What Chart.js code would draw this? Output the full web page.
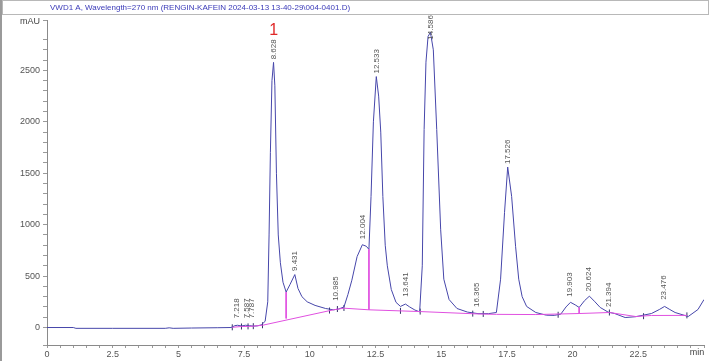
<!DOCTYPE html>
<html>
<head>
<meta charset="utf-8">
<title>VWD1 A chromatogram</title>
<script src="https://cdn.jsdelivr.net/npm/chart.js@4/dist/chart.umd.min.js"></script>
<style>
  html, body { margin: 0; padding: 0; background: #fff; }
  #wrap { width: 709px; height: 361px; position: relative; }
</style>
</head>
<body>
<div id="wrap"><canvas id="myChart" width="709" height="361"></canvas></div>
<script>
// signal trace (min, mAU)
var sigT = [0, 1.0, 1.1, 2.5, 4.5, 4.65, 4.8, 5.5, 6.5, 7.0, 7.15, 7.25, 7.4, 7.55, 7.7, 7.85, 8.0, 8.15,
  8.3, 8.4, 8.45, 8.5, 8.56, 8.62, 8.67, 8.73, 8.8, 8.88, 8.98, 9.1, 9.25, 9.43, 9.55, 9.7, 9.9, 10.2,
  10.6, 10.9, 11.1, 11.3, 11.45, 11.6, 11.8, 12.0, 12.15, 12.25, 12.33, 12.42, 12.53, 12.62, 12.7,
  12.78, 12.87, 12.95, 13.1, 13.28, 13.45, 13.64, 13.8, 14.0, 14.18, 14.28, 14.35, 14.42, 14.5, 14.59,
  14.7, 14.83, 14.98, 15.1, 15.3, 15.6, 16.0, 16.4, 16.8, 17.1, 17.26, 17.41, 17.53, 17.68, 17.83,
  17.95, 18.08, 18.25, 18.6, 19.0, 19.3, 19.55, 19.75, 19.92, 20.1, 20.25, 20.45, 20.64, 20.85,
  21.05, 21.35, 21.6, 22.0, 22.4, 23.0, 23.3, 23.5, 23.7, 23.9, 24.4, 24.77, 25.0];
var sigV = [0, 0, -8, -8, -8, -3, -8, -5, -2, 0, 18, 22, 15, 22, 18, 14, 16, 25,
  60, 250, 900, 1700, 2400, 2578, 2350, 1500, 900, 630, 440, 345, 420, 515, 380, 300, 250, 215,
  185, 172, 180, 200, 320, 460, 690, 805, 790, 760, 1275, 2000, 2440, 2250, 1900,
  1275, 800, 600, 370, 245, 205, 228, 200, 170, 152, 600, 1925, 2580, 2830, 2870,
  2700, 1925, 950, 470, 272, 185, 150, 135, 135, 146, 470, 1120, 1560, 1275, 790,
  470, 300, 205, 146, 120, 118, 130, 200, 245, 220, 195, 260, 305, 250,
  195, 150, 136, 97, 105, 136, 175, 205, 175, 146, 107, 175, 272];

// integration baseline
var baseT = [7.05, 7.4, 7.8, 8.2, 10.9, 11.3, 12.25, 14.2, 16.4, 17.1, 18.6, 20.25, 21.4, 22.4, 23.0, 24.35];
var baseV = [2, 10, 12, 22, 172, 188, 172, 155, 132, 128, 126, 136, 146, 107, 117, 118];

// drop lines: time, top, bottom
var dropT = [9.1, 12.25, 20.25];
var dropTop = [345, 760, 195];
var dropBot = [88, 172, 136];

// integration marks
var markT = [7.05, 7.4, 7.65, 7.85, 8.2, 10.75, 11.05, 11.3, 13.45, 14.2, 16.2, 16.6, 19.45, 21.4, 22.7, 24.35];
var markV = [2, 10, 11, 13, 22, 165, 180, 190, 162, 155, 135, 132, 124, 146, 110, 118];

// peak labels (retention time, label foot in mAU)
var peakT = [7.218, 7.587, 7.787, 8.628, 9.431, 10.985, 12.004, 12.533, 13.641, 14.586, 16.365, 17.526, 19.903, 20.624, 21.394, 23.476];
var peakV = [60, 60, 60, 2578, 520, 230, 830, 2440, 270, 2770, 170, 1560, 270, 320, 170, 240];

var titleText = 'VWD1 A, Wavelength=270 nm (RENGIN-KAFEIN 2024-03-13 13-40-29\\004-0401.D)';

function pts(xs, ys) {
  var out = [];
  for (var i = 0; i < xs.length; i++) out.push({x: xs[i], y: ys[i]});
  return out;
}

var dropData = [];
for (var i = 0; i < dropT.length; i++) {
  dropData.push({x: dropT[i], y: dropTop[i]});
  dropData.push({x: dropT[i], y: dropBot[i]});
  dropData.push({x: dropT[i], y: null});
}

var decor = {
  id: 'decor',
  afterDatasetsDraw: function(chart) {
    var ctx = chart.ctx, xs = chart.scales.x, ys = chart.scales.y;
    ctx.save();
    ctx.fillStyle = '#555';
    ctx.font = '8px "Liberation Sans", Arial, sans-serif';
    ctx.textBaseline = 'middle';
    ctx.textAlign = 'left';
    for (var i = 0; i < peakT.length; i++) {
      var px = xs.getPixelForValue(peakT[i]);
      var py = ys.getPixelForValue(peakV[i]) - 3;
      ctx.save();
      ctx.translate(px, py);
      ctx.rotate(-Math.PI / 2);
      ctx.fillText(peakT[i].toFixed(3), 0, 0);
      ctx.restore();
    }
    // red peak number
    ctx.fillStyle = '#e02828';
    ctx.font = '16px "Liberation Sans", Arial, sans-serif';
    ctx.textAlign = 'center';
    ctx.fillText('1', xs.getPixelForValue(8.628), 31);
    // axis unit labels
    ctx.fillStyle = '#444';
    ctx.font = '9px "Liberation Sans", Arial, sans-serif';
    ctx.textAlign = 'right';
    ctx.fillText('mAU', 40, 22);
    ctx.textAlign = 'center';
    ctx.fillText('min', 697, 353);
    // title box
    ctx.fillStyle = '#fff';
    ctx.fillRect(2, 0, 707, 15);
    ctx.strokeStyle = '#b8b8b8';
    ctx.lineWidth = 1;
    ctx.strokeRect(2.5, 0.5, 706, 14);
    ctx.fillStyle = '#3a3ab8';
    ctx.font = '8px "Liberation Sans", Arial, sans-serif';
    ctx.textAlign = 'left';
    ctx.fillText(titleText, 50, 8);
    // left edge
    ctx.fillStyle = '#9a9a9a';
    ctx.fillRect(0, 0, 2, 361);
    ctx.restore();
  }
};

var tickFont = { family: '"Liberation Sans", Arial, sans-serif', size: 9 };

var graficoContainer = document.getElementById('myChart');
var grafico = new Chart(graficoContainer, {
  type: 'scatter',
  data: {
    datasets: [{
      label: 'baseline',
      data: pts(baseT, baseV),
      showLine: true,
      borderColor: '#e050e0',
      borderWidth: 1,
      pointRadius: 0
    }, {
      label: 'drops',
      data: dropData,
      showLine: true,
      spanGaps: false,
      borderColor: '#e050e0',
      borderWidth: 1,
      pointRadius: 0
    }, {
      label: 'signal',
      data: pts(sigT, sigV),
      showLine: true,
      borderColor: '#4646aa',
      borderWidth: 1,
      pointRadius: 0
    }, {
      label: 'marks',
      data: pts(markT, markV),
      showLine: false,
      pointStyle: 'line',
      rotation: 90,
      pointRadius: 3,
      borderColor: '#333366',
      borderWidth: 1
    }]
  },
  options: {
    responsive: false,
    animation: false,
    layout: { padding: { top: 20, right: 2, left: 0, bottom: 0 } },
    plugins: { legend: { display: false }, tooltip: { enabled: false } },
    scales: {
      x: {
        type: 'linear',
        min: 0,
        max: 25,
        afterFit: function(s) { s.height = 16; },
        border: { color: '#8a8a8a' },
        grid: { drawOnChartArea: false, color: '#9a9a9a', tickLength: 3 },
        ticks: {
          stepSize: 0.5,
          autoSkip: false,
          maxRotation: 0,
          padding: 1,
          color: '#555',
          font: tickFont,
          callback: function(v) {
            if (v >= 25) return '';
            return Math.abs(v / 2.5 - Math.round(v / 2.5)) < 1e-6 ? String(v) : '';
          }
        }
      },
      y: {
        min: -170,
        max: 2990,
        afterFit: function(s) { s.width = 47; },
        border: { color: '#8a8a8a' },
        grid: { drawOnChartArea: false, color: '#9a9a9a', tickLength: 4 },
        ticks: {
          stepSize: 100,
          autoSkip: false,
          padding: 3,
          color: '#555',
          font: tickFont,
          callback: function(v) {
            return (v >= 0 && v % 500 === 0) ? String(v) : '';
          }
        }
      }
    }
  },
  plugins: [decor]
});
</script>
</body>
</html>
